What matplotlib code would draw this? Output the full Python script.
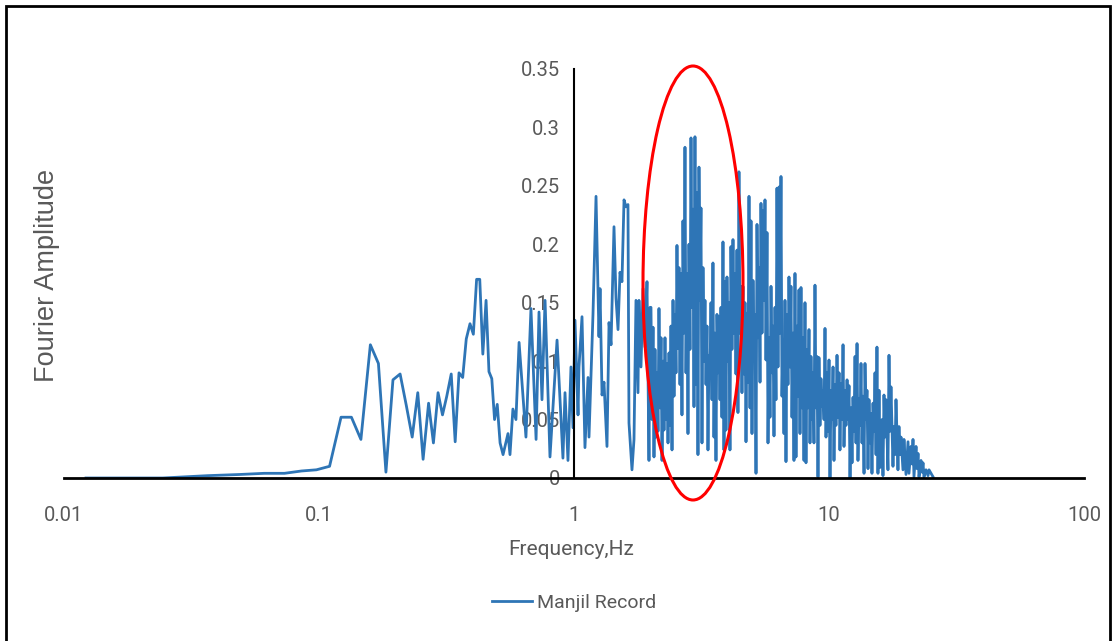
import numpy as np
import matplotlib
matplotlib.use("Agg")
import matplotlib.pyplot as plt
from matplotlib.patches import Ellipse, Rectangle
from matplotlib.ticker import FixedLocator, FixedFormatter, NullLocator

# Fourier amplitude spectrum
# below ~0.5 Hz: one value per frequency bin
freq_low = [0.0122, 0.0244, 0.0366, 0.0488, 0.061, 0.0732, 0.0854, 0.0977, 0.110, 0.122,
            0.134, 0.146, 0.159, 0.171, 0.183, 0.195, 0.208, 0.220, 0.232, 0.244,
            0.256, 0.269, 0.281, 0.293, 0.305, 0.317, 0.330, 0.342, 0.354, 0.366,
            0.378, 0.391, 0.403, 0.415, 0.427, 0.439, 0.452, 0.464, 0.476, 0.488, 0.500]
amp_low = [0.0, 0.0, 0.002, 0.003, 0.004, 0.004, 0.006, 0.007, 0.010, 0.052,
           0.052, 0.033, 0.114, 0.098, 0.005, 0.084, 0.089, 0.062, 0.035, 0.073,
           0.016, 0.064, 0.030, 0.073, 0.054, 0.070, 0.089, 0.031, 0.090, 0.086,
           0.119, 0.132, 0.123, 0.170, 0.170, 0.106, 0.152, 0.091, 0.085, 0.050, 0.063]

# 0.5 - 1 Hz
freq_mid = [0.513, 0.527, 0.551, 0.561, 0.576, 0.592, 0.609, 0.648, 0.678, 0.710,
            0.729, 0.749, 0.770, 0.805, 0.858, 0.881, 0.905, 0.922, 0.947, 0.973]
amp_mid = [0.030, 0.020, 0.038, 0.020, 0.059, 0.050, 0.116, 0.035, 0.145, 0.033,
           0.142, 0.067, 0.152, 0.018, 0.118, 0.067, 0.017, 0.073, 0.015, 0.095]

# 1 - 2 Hz
freq_one = [0.991, 1.009, 1.037, 1.046, 1.075, 1.104, 1.135, 1.145, 1.187, 1.220,
            1.253, 1.265, 1.288, 1.311, 1.347, 1.372, 1.397, 1.435, 1.461, 1.488,
            1.515, 1.542, 1.571, 1.599, 1.628, 1.643, 1.688, 1.719, 1.750, 1.782,
            1.798, 1.831, 1.865, 1.899, 1.933, 1.968, 1.986]
amp_one = [0.043, 0.135, 0.054, 0.095, 0.138, 0.026, 0.086, 0.035, 0.140, 0.241,
           0.121, 0.162, 0.071, 0.082, 0.027, 0.133, 0.114, 0.215, 0.154, 0.127,
           0.176, 0.168, 0.238, 0.232, 0.234, 0.047, 0.007, 0.033, 0.152, 0.073,
           0.152, 0.095, 0.162, 0.112, 0.168, 0.015, 0.146]

# 2 - 16 Hz, the dense band
freq_dense = [2.004, 2.022, 2.041,
              2.059, 2.078, 2.097, 2.116, 2.135, 2.154, 2.174, 2.194, 2.214, 2.234,
              2.254, 2.274, 2.295, 2.316, 2.337, 2.358, 2.379, 2.401, 2.423, 2.445,
              2.467, 2.489, 2.512, 2.534, 2.557, 2.581, 2.604, 2.628, 2.651, 2.675,
              2.700, 2.724, 2.749, 2.774, 2.799, 2.824, 2.850, 2.876, 2.902, 2.928,
              2.955, 2.981, 3.008, 3.036, 3.063, 3.091, 3.119, 3.147, 3.176, 3.205,
              3.234, 3.263, 3.293, 3.323, 3.353, 3.383, 3.414, 3.445, 3.476, 3.507,
              3.539, 3.571, 3.604, 3.636, 3.669, 3.703, 3.736, 3.770, 3.804, 3.839,
              3.874, 3.909, 3.944, 3.980, 4.016, 4.053, 4.089, 4.126, 4.164, 4.202,
              4.240, 4.278, 4.317, 4.356, 4.395, 4.435, 4.476, 4.516, 4.557, 4.598,
              4.642, 4.684, 4.726, 4.769, 4.812, 4.856, 4.900, 4.944, 4.989, 5.035,
              5.080, 5.126, 5.173, 5.220, 5.267, 5.315, 5.363, 5.411, 5.461, 5.510,
              5.560, 5.610, 5.661, 5.713, 5.765, 5.817, 5.870, 5.923, 5.977, 6.031,
              6.085, 6.140, 6.196, 6.252, 6.309, 6.366, 6.424, 6.482, 6.541, 6.600,
              6.660, 6.720, 6.781, 6.843, 6.905, 6.967, 7.031, 7.094, 7.159, 7.224,
              7.289, 7.355, 7.422, 7.489, 7.557, 7.626, 7.695, 7.765, 7.835, 7.906,
              7.978, 8.050, 8.123, 8.197, 8.271, 8.346, 8.422, 8.498, 8.575, 8.653,
              8.731, 8.811, 8.890, 8.971, 9.053, 9.134, 9.217, 9.301, 9.385, 9.470,
              9.559, 9.645, 9.733, 9.821, 9.910, 10.00, 10.09, 10.18, 10.28, 10.37,
              10.46, 10.56, 10.65, 10.75, 10.85, 10.95, 11.04, 11.15, 11.25, 11.35,
              11.45, 11.55, 11.66, 11.77, 11.87, 11.98, 12.09, 12.20, 12.31, 12.42,
              12.53, 12.65, 12.76, 12.88, 12.99, 13.11, 13.23, 13.35, 13.47, 13.59,
              13.72, 13.84, 13.97, 14.09, 14.22, 14.35, 14.48, 14.61, 14.74, 14.88,
              15.01, 15.15, 15.29, 15.42, 15.56, 15.71, 15.85]
amp_dense = [0.146, 0.050, 0.129,
             0.018, 0.110, 0.035, 0.090, 0.040, 0.145, 0.060, 0.120, 0.015, 0.100,
             0.041, 0.120, 0.050, 0.098, 0.030, 0.107, 0.045, 0.130, 0.024, 0.152,
             0.070, 0.140, 0.090, 0.199, 0.111, 0.180, 0.080, 0.175, 0.054, 0.220,
             0.124, 0.283, 0.090, 0.175, 0.038, 0.200, 0.110, 0.291, 0.146, 0.230,
             0.061, 0.292, 0.080, 0.244, 0.020, 0.266, 0.152, 0.231, 0.030, 0.180,
             0.100, 0.152, 0.080, 0.130, 0.024, 0.105, 0.090, 0.150, 0.067, 0.184,
             0.035, 0.124, 0.015, 0.140, 0.090, 0.138, 0.067, 0.146, 0.052, 0.202,
             0.024, 0.168, 0.041, 0.172, 0.100, 0.150, 0.024, 0.198, 0.110, 0.204,
             0.124, 0.175, 0.089, 0.195, 0.056, 0.262, 0.124, 0.164, 0.073, 0.164,
             0.089, 0.150, 0.031, 0.141, 0.082, 0.241, 0.060, 0.220, 0.038, 0.169,
             0.100, 0.140, 0.004, 0.217, 0.120, 0.180, 0.082, 0.235, 0.124, 0.229,
             0.152, 0.238, 0.101, 0.210, 0.030, 0.120, 0.052, 0.164, 0.090, 0.130,
             0.036, 0.146, 0.067, 0.248, 0.095, 0.249, 0.124, 0.258, 0.070, 0.118,
             0.038, 0.152, 0.014, 0.140, 0.080, 0.172, 0.095, 0.164, 0.052, 0.124,
             0.015, 0.175, 0.018, 0.130, 0.070, 0.161, 0.038, 0.163, 0.060, 0.120,
             0.015, 0.150, 0.013, 0.110, 0.060, 0.127, 0.030, 0.104, 0.050, 0.090,
             0.030, 0.165, 0.060, 0.104, 0.001, 0.103, 0.045, 0.085, 0.061, 0.075,
             0.050, 0.128, 0.035, 0.090, 0.040, 0.101, 0.000, 0.075, 0.050, 0.095,
             0.015, 0.080, 0.045, 0.105, 0.052, 0.090, 0.024, 0.081, 0.050, 0.114,
             0.027, 0.075, 0.045, 0.084, 0.050, 0.079, 0.000, 0.060, 0.013, 0.069,
             0.040, 0.104, 0.030, 0.115, 0.015, 0.068, 0.045, 0.098, 0.030, 0.070,
             0.004, 0.098, 0.050, 0.075, 0.008, 0.067, 0.030, 0.055, 0.004, 0.064,
             0.040, 0.090, 0.020, 0.112, 0.004, 0.075, 0.009]

# tail, 16 - 26 Hz
freq_tail = [16.14, 16.28, 16.43, 16.58, 16.73, 17.03, 17.19, 17.35, 17.50, 17.82,
             17.98, 18.15, 18.31, 18.64, 18.81, 18.98, 19.16, 19.50, 19.68, 20.04,
             20.41, 20.59, 20.97, 21.16, 21.35, 21.54, 21.94, 22.14, 22.34, 22.54,
             22.95, 23.16, 23.37, 23.58, 24.01, 24.45, 24.67, 25.12, 25.58]
amp_tail = [0.050, 0.002, 0.071, 0.035, 0.067, 0.007, 0.105, 0.040, 0.078, 0.010,
            0.044, 0.020, 0.067, 0.007, 0.044, 0.020, 0.035, 0.007, 0.033, 0.003,
            0.031, 0.004, 0.027, 0.012, 0.033, 0.001, 0.027, 0.008, 0.021, 0.001,
            0.015, 0.005, 0.013, 0.001, 0.007, 0.002, 0.007, 0.004, 0.001]

x_ticks = [0.01, 0.1, 1, 10, 100]
x_tick_labels = ["0.01", "0.1", "1", "10", "100"]
y_ticks = [0, 0.05, 0.1, 0.15, 0.2, 0.25, 0.3, 0.35]
y_tick_labels = ["0", "0.05", "0.1", "0.15", "0.2", "0.25", "0.3", "0.35"]

freq = np.array(freq_low + freq_mid + freq_one + freq_dense + freq_tail)
amp = np.array(amp_low + amp_mid + amp_one + amp_dense + amp_tail)

font = ["Roboto", "DejaVu Sans"]
grey = "#595959"

fig = plt.figure(figsize=(11.15, 6.41), dpi=100)
ax = fig.add_axes([0.0574, 0.2543, 0.9148, 0.6381])

ax.plot(freq, amp, color="#2E75B6", lw=2.0, label="Manjil Record")

ax.set_xscale("log")
ax.set_xlim(0.01, 100)
ax.set_ylim(0, 0.35)

ax.xaxis.set_major_locator(FixedLocator(x_ticks))
ax.xaxis.set_major_formatter(FixedFormatter(x_tick_labels))
ax.xaxis.set_minor_locator(NullLocator())
ax.yaxis.set_major_locator(FixedLocator(y_ticks))
ax.yaxis.set_major_formatter(FixedFormatter(y_tick_labels))

ax.spines["top"].set_visible(False)
ax.spines["right"].set_visible(False)
ax.spines["left"].set_position(("data", 1))
ax.spines["left"].set_linewidth(1.5)
ax.spines["bottom"].set_linewidth(2.0)
ax.tick_params(axis="both", length=0, colors=grey, labelsize=14.5)
ax.tick_params(axis="x", pad=20)
ax.tick_params(axis="y", pad=10)
for lab in ax.get_xticklabels() + ax.get_yticklabels():
    lab.set_family(font)
ax.patch.set_alpha(0)

fig.text(0.512, 0.142, "Frequency,Hz", ha="center", va="center",
         fontsize=15, color=grey, family=font)
fig.text(0.042, 0.571, "Fourier Amplitude", ha="center", va="center",
         rotation=90, fontsize=19.5, color=grey, family=["Liberation Sans", "DejaVu Sans"])

leg = fig.legend(loc="center left", bbox_to_anchor=(0.441, 0.0593), frameon=False,
                 handlelength=2.05, handletextpad=0.3, borderpad=0, borderaxespad=0,
                 prop={"family": font, "size": 14})
for t in leg.get_texts():
    t.set_color(grey)

# red ellipse around the 2-4 Hz band
fig.add_artist(Ellipse((693 / 1115, 1 - 283 / 641), 100 / 1115, 434 / 641,
                       transform=fig.transFigure, fill=False, edgecolor="red", lw=2.2))
# frame round the picture
fig.add_artist(Rectangle((6 / 1115, -0.1), 1104 / 1115, 1.1 - 6 / 641,
                         transform=fig.transFigure, fill=False, edgecolor="black", lw=2))

fig.savefig("out.png", dpi=100)
